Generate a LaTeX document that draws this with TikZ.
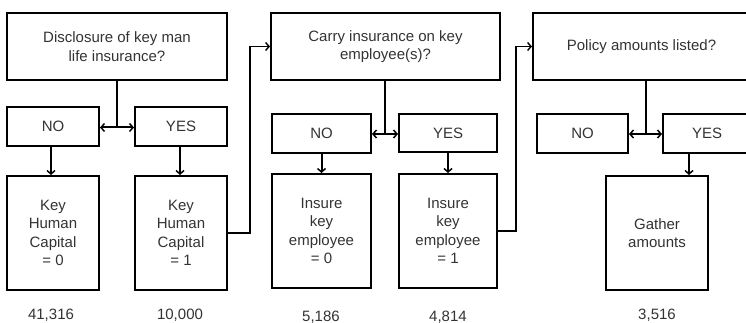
\documentclass[tikz,border=0pt]{standalone}
\usepackage{fontspec}
\setmainfont{Liberation Sans}
\usetikzlibrary{arrows.meta}
\begin{document}
\begin{tikzpicture}[x=1pt,y=-1pt,
  box/.style={draw=black, line width=2pt, inner sep=0pt, align=center,
    text=black!80, font=\fontsize{15}{18.5}\selectfont},
  num/.style={inner sep=0pt, text=black!80, font=\fontsize{15}{18}\selectfont},
  arr/.style={line width=2pt, -{Straight Barb[length=3.5pt,width=8pt,line width=1.5pt]}},
  conn/.style={line width=1.4pt, -{Straight Barb[length=3.5pt,width=8pt,line width=1.4pt]}},
  stemline/.style={line width=2pt}]
\useasboundingbox (0,0) rectangle (746,323);
\clip (0,0) rectangle (746,323);
% group 1
\node[box, minimum width=220pt, minimum height=67pt] (Q1) at (117,46.5) {Disclosure of key man\\life insurance?};
\node[box, minimum width=92pt, minimum height=39pt] (NO1) at (53,126.5) {NO};
\node[box, minimum width=92pt, minimum height=39pt] (YES1) at (181,126.5) {YES};
\node[box, minimum width=92pt, minimum height=114pt] (R1a) at (53,233) {Key\\Human\\Capital\\= 0};
\node[box, minimum width=92pt, minimum height=114pt] (R1b) at (181,233) {Key\\Human\\Capital\\= 1};
\node[num] (N1a) at (51,315) {41,316};
\node[num] (N1b) at (180,315) {10,000};
\coordinate (S1) at (117,127.5);
\draw[stemline] (Q1.south) -- (S1);
\draw[arr] (S1) -- (S1 -| NO1.east);
\draw[arr] (S1) -- (S1 -| YES1.west);
\draw[arr] ([xshift=-2pt]NO1.south) -- ([xshift=-2pt]NO1.south |- R1a.north);
\draw[arr] ([xshift=-1pt]YES1.south) -- ([xshift=-1pt]YES1.south |- R1b.north);
% group 2
\node[box, minimum width=229pt, minimum height=67pt] (Q2) at (385.5,46.5) {Carry insurance on key\\employee(s)?};
\node[box, minimum width=99pt, minimum height=39pt] (NO2) at (321.5,133.5) {NO};
\node[box, minimum width=98pt, minimum height=38pt] (YES2) at (448,133) {YES};
\node[box, minimum width=99pt, minimum height=114pt] (R2a) at (321.5,231) {Insure\\key\\employee\\= 0};
\node[box, minimum width=98pt, minimum height=114pt] (R2b) at (448,231) {Insure\\key\\employee\\= 1};
\node[num] (N2a) at (321,317) {5,186};
\node[num] (N2b) at (448,317) {4,814};
\coordinate (S2) at (385,134);
\draw[stemline] (Q2.south -| S2) -- (S2);
\draw[arr] (S2) -- (S2 -| NO2.east);
\draw[arr] (S2) -- (S2 -| YES2.west);
\draw[arr] (NO2.south) -- (R2a.north);
\draw[arr] (YES2.south) -- (R2b.north);
% group 3
\node[box, minimum width=217pt, minimum height=67pt] (Q3) at (641.5,46.5) {Policy amounts listed?};
\node[box, minimum width=91pt, minimum height=39pt] (NO3) at (582.5,133.5) {NO};
\node[box, minimum width=88pt, minimum height=39pt] (YES3) at (707,133.5) {YES};
\node[box, minimum width=102pt, minimum height=114pt] (R3) at (657,233) {Gather\\amounts};
\node[num] (N3) at (657,315) {3,516};
\coordinate (S3) at (646,134);
\draw[stemline] (Q3.south -| S3) -- (S3);
\draw[arr] (S3) -- (S3 -| NO3.east);
\draw[arr] (S3) -- (S3 -| YES3.west);
\draw[arr] ([xshift=-18pt]YES3.south) -- ([xshift=-18pt]YES3.south |- R3.north);
% cross connectors
\draw[conn] (R1b.east) -- ++(22,0) |- (Q2.west);
\draw[conn] (R2b.east) -- ++(18,0) |- (Q3.west);
\end{tikzpicture}
\end{document}
